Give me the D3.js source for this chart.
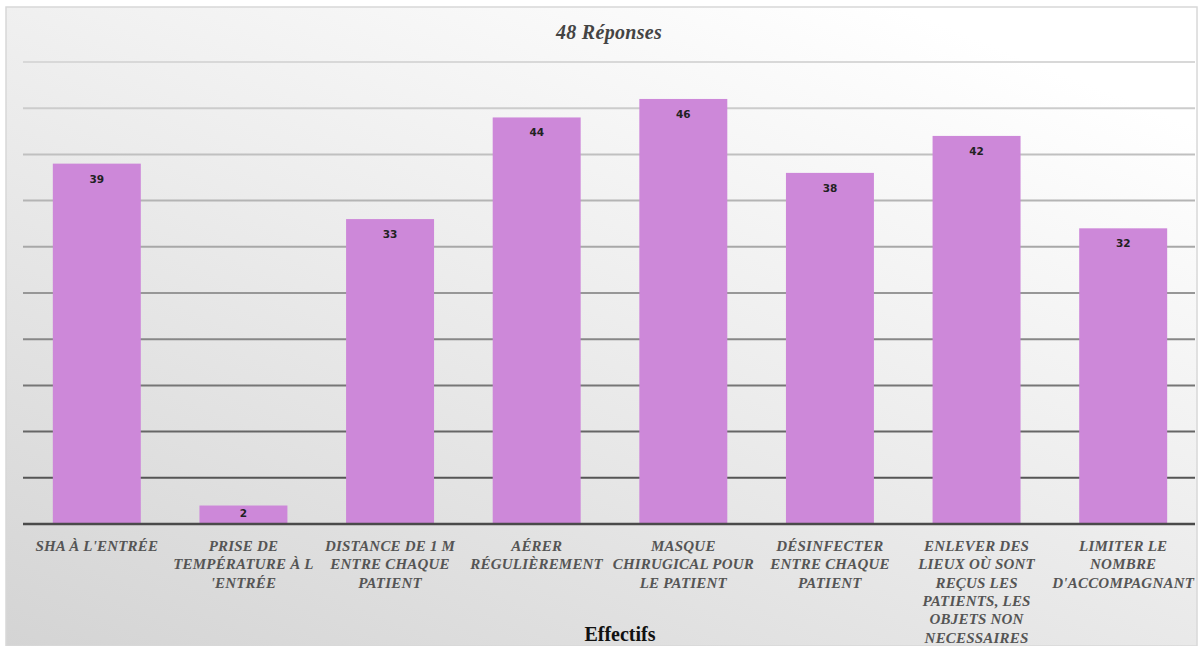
<!DOCTYPE html>
<html><head><meta charset="utf-8">
<script src="https://cdn.jsdelivr.net/npm/d3@7"></script>
<style>html,body{margin:0;padding:0;background:#fff;}svg{display:block;}</style>
</head><body>
<svg id="chart" width="1200" height="646"></svg>
<script>
const categories = [
  "SHA À L'ENTRÉE",
  "PRISE DE\nTEMPÉRATURE À L\n'ENTRÉE",
  "DISTANCE DE 1 M\nENTRE CHAQUE\nPATIENT",
  "AÉRER\nRÉGULIÈREMENT",
  "MASQUE\nCHIRUGICAL POUR\nLE PATIENT",
  "DÉSINFECTER\nENTRE CHAQUE\nPATIENT",
  "ENLEVER DES\nLIEUX OÙ SONT\nREÇUS LES\nPATIENTS, LES\nOBJETS NON\nNECESSAIRES",
  "LIMITER LE\nNOMBRE\nD'ACCOMPAGNANT"
];
const values = [39, 2, 33, 44, 46, 38, 42, 32];
const gridTicks = [5, 10, 15, 20, 25, 30, 35, 40, 45, 50];
const titleText = "48 Réponses";
const axisTitle = "Effectifs";

const svg = d3.select("#chart");
const defs = svg.append("defs");
const bg = defs.append("linearGradient").attr("id","bg")
  .attr("x1","0").attr("y1","1").attr("x2","0.75").attr("y2","0");
bg.append("stop").attr("offset","0").attr("stop-color","#d4d4d4");
bg.append("stop").attr("offset","0.55").attr("stop-color","#ececec");
bg.append("stop").attr("offset","1").attr("stop-color","#ffffff");

svg.append("rect").attr("x",6).attr("y",7).attr("width",1191).attr("height",639)
  .attr("fill","url(#bg)").attr("stroke","#d8d8d8").attr("stroke-width",1.5);

const x = d3.scaleBand().domain(categories).range([23.5, 1196.5]).paddingInner(0.4).paddingOuter(0.2);
const y = d3.scaleLinear().domain([0, 50]).range([524, 62]);

const gridColor = d3.scaleLinear().domain([50, 30, 5]).range(["#d8d8d8", "#a8a8a8", "#555555"]);

svg.append("g").selectAll("line").data(gridTicks).join("line")
  .attr("x1", 23).attr("x2", 1195)
  .attr("y1", d => y(d)).attr("y2", d => y(d))
  .attr("stroke", d => gridColor(d)).attr("stroke-width", 2);

svg.append("g").selectAll("rect").data(values).join("rect")
  .attr("x", (d,i) => x(categories[i]))
  .attr("width", x.bandwidth())
  .attr("y", d => y(d))
  .attr("height", d => y(0) - y(d))
  .attr("fill", "#cd88d9");

// baseline
svg.append("line").attr("x1",23).attr("x2",1195).attr("y1",y(0)).attr("y2",y(0))
  .attr("stroke","#4a4a4a").attr("stroke-width",2.5);

svg.append("g").selectAll("text").data(values).join("text")
  .attr("x", (d,i) => x(categories[i]) + x.bandwidth()/2)
  .attr("y", d => Math.min(y(d) + 19, y(0) - 7))
  .attr("text-anchor","middle")
  .attr("font-family","'DejaVu Sans', sans-serif").attr("font-weight","bold")
  .attr("font-size", 10.5).attr("fill","#222")
  .text(d => d);

const lab = svg.append("g").selectAll("text").data(categories).join("text")
  .attr("text-anchor","middle")
  .attr("font-family","'Liberation Serif', 'Times New Roman', serif")
  .attr("font-style","italic").attr("font-weight","bold")
  .attr("font-size", 15).attr("letter-spacing", 0.2).attr("fill","#555");
lab.each(function(c){
  const t = d3.select(this);
  c.split("\n").forEach((ln, j) => {
    t.append("tspan").attr("x", x(c) + x.bandwidth()/2).attr("y", 551 + j*18.3).text(ln);
  });
});

svg.append("text").attr("x", 609).attr("y", 39).attr("text-anchor","middle")
  .attr("font-family","'Liberation Serif', serif").attr("font-style","italic").attr("font-weight","bold")
  .attr("font-size", 20).attr("letter-spacing", 0.3).attr("fill","#444").text(titleText);

svg.append("text").attr("x", 620).attr("y", 641).attr("text-anchor","middle")
  .attr("font-family","'Liberation Serif', serif").attr("font-weight","bold")
  .attr("font-size", 20).attr("fill","#111").text(axisTitle);
</script>
</body></html>
